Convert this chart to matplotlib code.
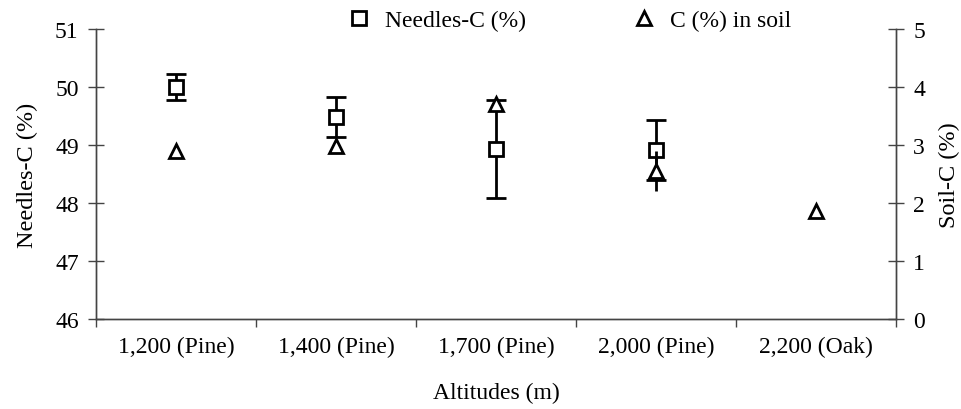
import numpy as np
import matplotlib.pyplot as plt
from matplotlib.ticker import FixedLocator, NullFormatter

plt.rcParams['font.family'] = ['Liberation Serif', 'DejaVu Serif']

# Sites along the altitude gradient
sites = ['1,200 (Pine)', '1,400 (Pine)', '1,700 (Pine)', '2,000 (Pine)', '2,200 (Oak)']

# Needle carbon (%) with error, oak site has no needle sample
needles_c = [50.00, 49.48, 48.93, 48.91]
needles_err = [0.23, 0.35, 0.85, 0.52]

# Soil carbon (%) with error
soil_c = [2.90, 2.98, 3.71, 2.55, 1.86]
soil_err = [0.0, 0.0, 0.0, 0.35, 0.0]

x = np.arange(len(sites))
spine_col = '#444444'
fs = 17

fig = plt.figure(figsize=(9.62, 4.10), dpi=100)
ax = fig.add_axes([0.0998, 0.2195, 0.8316, 0.7073])
ax2 = ax.twinx()

ax.errorbar(x[:len(needles_c)], needles_c, yerr=needles_err, fmt='s',
            color='black', mfc='white', mec='black', ms=10, mew=2,
            elinewidth=2, capsize=7, capthick=2, zorder=3,
            label='Needles-C (%)')
ax2.errorbar(x, soil_c, yerr=soil_err, fmt='^', color='black',
             mfc='white', mec='black', ms=10, mew=2, elinewidth=2,
             capsize=0, zorder=3, label='C (%) in soil')

ax.set_xlim(-0.5, len(sites) - 0.5)
ax.set_ylim(46, 51)
ax2.set_ylim(0, 5)

ax.set_xticks(x)
ax.set_xticklabels(sites)
ax.xaxis.set_minor_locator(FixedLocator(np.arange(-0.5, len(sites), 1.0)))
ax.xaxis.set_minor_formatter(NullFormatter())
ax.tick_params(axis='x', which='major', length=0, labelsize=fs, pad=12)
ax.tick_params(axis='x', which='minor', length=6, direction='out',
               color=spine_col, width=1)
ax.tick_params(axis='y', direction='inout', length=11, width=1,
               color=spine_col, labelsize=fs, pad=7)
ax2.tick_params(axis='y', direction='inout', length=11, width=1,
                color=spine_col, labelsize=fs, pad=7)

for a in (ax, ax2):
    a.spines['top'].set_visible(False)
    for s in ('left', 'right', 'bottom'):
        a.spines[s].set_color(spine_col)
        a.spines[s].set_linewidth(1)

ax.set_ylabel('Needles-C (%)', fontsize=fs + 0.5, labelpad=12)
ax2.set_ylabel('Soil-C (%)', fontsize=fs + 0.5, labelpad=10)
ax.set_xlabel('Altitudes (m)', fontsize=fs, labelpad=18)

h1, l1 = ax.get_legend_handles_labels()
h2, l2 = ax2.get_legend_handles_labels()
handles = [h1[0][0], h2[0][0]]
fig.legend(handles, l1 + l2, loc='center', bbox_to_anchor=(0.592, 0.948),
           ncol=2, frameon=False, fontsize=fs, handlelength=1.0,
           handletextpad=0.6, columnspacing=4.5)

fig.savefig('out.png', dpi=100)
